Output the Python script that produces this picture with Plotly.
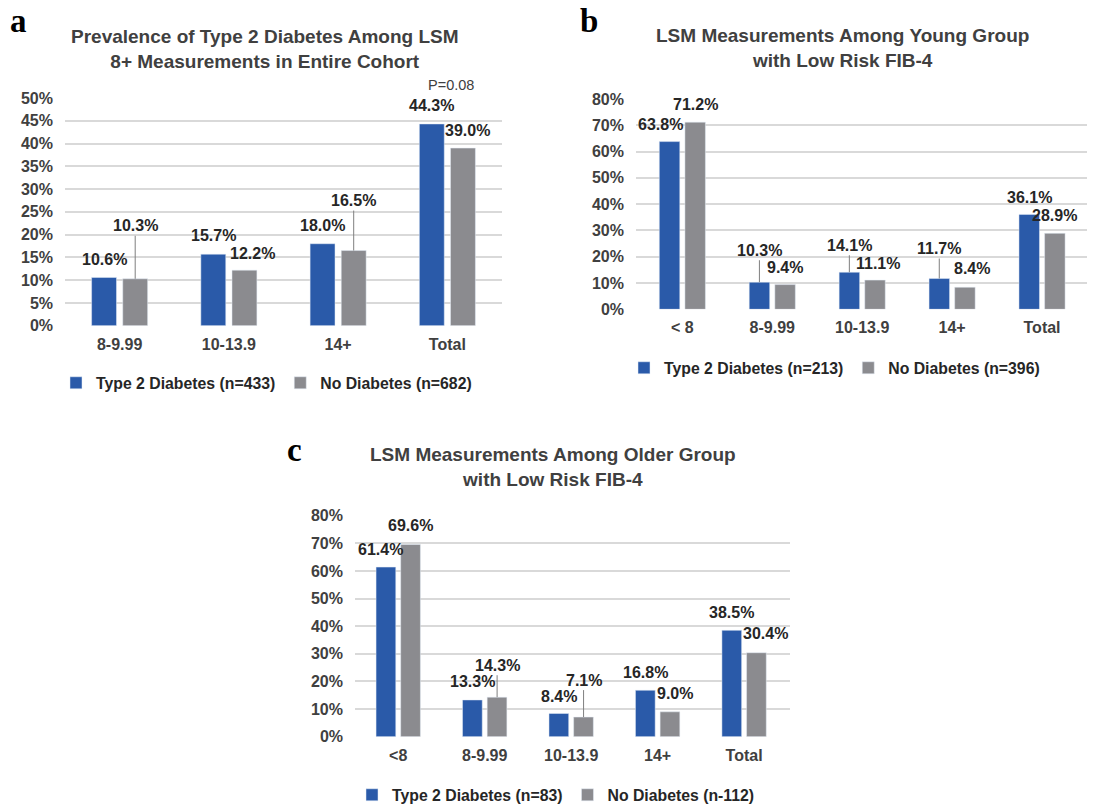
import plotly.graph_objects as go

W, H = 1103, 805

# ---------------- data ----------------
cats_a = ["8-9.99", "10-13.9", "14+", "Total"]
t2d_a = [10.6, 15.7, 18.0, 44.3]
nod_a = [10.3, 12.2, 16.5, 39.0]
names_a = ["Type 2 Diabetes (n=433)", "No Diabetes (n=682)"]
title_a = "Prevalence of Type 2 Diabetes Among LSM<br>8+ Measurements in Entire Cohort"
pval_a = "P=0.08"

cats_b = ["< 8", "8-9.99", "10-13.9", "14+", "Total"]
t2d_b = [63.8, 10.3, 14.1, 11.7, 36.1]
nod_b = [71.2, 9.4, 11.1, 8.4, 28.9]
names_b = ["Type 2 Diabetes (n=213)", "No Diabetes (n=396)"]
title_b = "LSM Measurements Among Young Group<br>with Low Risk FIB-4"

cats_c = ["<8", "8-9.99", "10-13.9", "14+", "Total"]
t2d_c = [61.4, 13.3, 8.4, 16.8, 38.5]
nod_c = [69.6, 14.3, 7.1, 9.0, 30.4]
names_c = ["Type 2 Diabetes (n=83)", "No Diabetes (n-112)"]
title_c = "LSM Measurements Among Older Group<br>with Low Risk FIB-4"

# ---------------- style ----------------
BLUE = "#2a5aa9"
GRAY = "#8b8b8f"
GRID = "#d9d9d9"
TXT = "#404040"
LBL = "#262626"
FONT = "Liberation Sans, Arial, sans-serif"
BARGAP = 0.43
BARGROUPGAP = 0.2
FS = 16

# panel geometry in pixels: left, right, top(plot top), bottom(plot bottom)
geo = {
    "a": dict(l=65, r=502, t=98, b=325.7, ymax=50, dtick=5),
    "b": dict(l=636, r=1087, t=99, b=309.3, ymax=80, dtick=10),
    "c": dict(l=355, r=790, t=515.7, b=736.7, ymax=80, dtick=10),
}

# label offsets (dx px, dy px above bar top, leader line)
offs = {
    "a": ([(0, 18, 0), (0, 19, 0), (0, 18, 0), (0, 18, 0)],
          [(0, 53, 1), (8, 17, 0), (0, 50, 1), (5, 18, 0)]),
    "b": ([(-9, 17, 0), (0, 32, 1), (0, 27, 1), (0, 30, 1), (0, 17, 0)],
          [(0, 18, 0), (0, 17, 0), (3, 17, 0), (7, 19, 0), (0, 18, 0)]),
    "c": ([(-5, 18, 0), (0, 18, 0), (0, 17.5, 0), (0, 18, 0), (0, 18, 0)],
          [(0, 18.6, 0), (0, 32, 1), (0, 37, 1), (5, 18, 0), (9, 19, 0)]),
}

panels = [
    ("a", "", cats_a, t2d_a, nod_a, names_a, title_a, "legend", (76, 383), (265, 49), (18.5, 21)),
    ("b", "2", cats_b, t2d_b, nod_b, names_b, title_b, "legend2", (644, 368), (842, 48.5), (589, 21.5)),
    ("c", "3", cats_c, t2d_c, nod_c, names_c, title_c, "legend3", (372, 795), (553, 466.5), (294, 450)),
]

fig = go.Figure()
annotations = []
layout = {}

for key, sfx, cats, t2d, nod, names, title, lg, lgpos, tpos, letterpos in panels:
    g = geo[key]
    xa, ya = "x" + sfx, "y" + sfx
    fig.add_trace(go.Bar(x=cats, y=t2d, name=names[0], marker_color=BLUE,
                         xaxis=xa, yaxis=ya, legend=lg, hoverinfo="x+y"))
    fig.add_trace(go.Bar(x=cats, y=nod, name=names[1], marker_color=GRAY,
                         xaxis=xa, yaxis=ya, legend=lg, hoverinfo="x+y"))
    layout["xaxis" + sfx] = dict(
        domain=[g["l"] / W, g["r"] / W], anchor=ya, type="category",
        showgrid=False, showline=False, ticks="", zeroline=False,
        tickfont=dict(family=FONT, size=FS, color=TXT, weight="bold"),
        ticklabelstandoff=7, fixedrange=True,
    )
    layout["yaxis" + sfx] = dict(
        domain=[1 - g["b"] / H, 1 - g["t"] / H], anchor=xa,
        range=[0, g["ymax"]], dtick=g["dtick"], ticksuffix="%",
        showgrid=True, gridcolor=GRID, gridwidth=1.5, zeroline=False,
        showline=False, ticks="",
        tickfont=dict(family=FONT, size=FS, color=TXT, weight="bold"),
        ticklabelstandoff=11, fixedrange=True,
    )
    catw = (g["r"] - g["l"]) / len(cats)
    shift = (1 - BARGAP) * catw / 4
    for series, sgn, ol in ((t2d, -1, offs[key][0]), (nod, 1, offs[key][1])):
        for c, v, (dx, dy, line) in zip(cats, series, ol):
            annotations.append(dict(
                x=c, y=v, xref=xa, yref=ya, text=f"{v:.1f}%",
                showarrow=True, arrowhead=0, arrowwidth=1, standoff=0,
                arrowcolor="#7f7f7f" if line else "rgba(0,0,0,0)",
                ax=dx, ay=-dy, xshift=sgn * shift,
                font=dict(family=FONT, size=FS, color=LBL, weight="bold"),
            ))
    # panel title
    annotations.append(dict(
        x=tpos[0] / W, y=1 - tpos[1] / H, xref="paper", yref="paper",
        text=title, showarrow=False, xanchor="center", yanchor="middle",
        font=dict(family=FONT, size=19, color=TXT, weight="bold"),
    ))
    # panel letter
    annotations.append(dict(
        x=letterpos[0] / W, y=1 - letterpos[1] / H, xref="paper", yref="paper",
        text=key, showarrow=False, xanchor="center", yanchor="middle",
        font=dict(family="Liberation Serif, Times New Roman, serif", size=33,
                  color="#000000", weight="bold"),
    ))
    layout[lg] = dict(
        orientation="h", x=(lgpos[0] - 20) / W, y=1 - lgpos[1] / H,
        xanchor="left", yanchor="middle", itemwidth=30,
        font=dict(family=FONT, size=15.8, color=LBL, weight="bold"),
        bgcolor="rgba(0,0,0,0)", itemclick=False, itemdoubleclick=False,
    )

# p-value for panel a
annotations.append(dict(
    x="Total", y=geo["a"]["ymax"], xref="x", yref="y", text=pval_a,
    showarrow=False, xshift=4, yshift=13, yanchor="middle",
    font=dict(family=FONT, size=14.5, color=TXT),
))

fig.update_layout(
    width=W, height=H,
    margin=dict(l=0, r=0, t=0, b=0, pad=0, autoexpand=False),
    paper_bgcolor="white", plot_bgcolor="white",
    barmode="group", bargap=BARGAP, bargroupgap=BARGROUPGAP,
    annotations=annotations, showlegend=True,
    **layout,
)

fig.write_html(
    "out.html",
    config={"displayModeBar": False},
    post_script="document.body.style.margin='0';document.body.style.overflow='hidden';",
)
